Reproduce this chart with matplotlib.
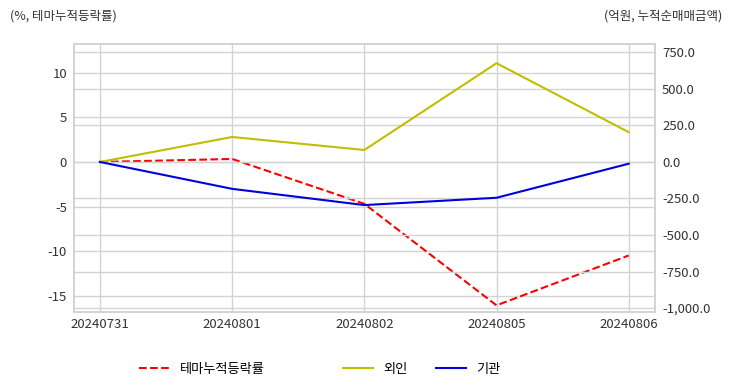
import matplotlib
matplotlib.use("Agg")
import matplotlib.pyplot as plt
from matplotlib.ticker import FuncFormatter

plt.rcParams['font.family'] = ['Noto Sans CJK KR', 'DejaVu Sans']
plt.rcParams['axes.unicode_minus'] = False

dates = ['20240731', '20240801', '20240802', '20240805', '20240806']
theme_rate = [0.0, 0.34, -4.7, -16.1, -10.5]      # %
foreign = [0.0, 171.0, 82.0, 676.0, 204.0]        # 억원
institution = [0.0, -184.0, -295.0, -245.0, -12.0]  # 억원

grid_c = '#d3d3d3'

fig = plt.figure(figsize=(7.32, 3.92), dpi=100)
ax = fig.add_axes([0.101, 0.204, 0.794, 0.684])
ax2 = ax.twinx()

x = list(range(len(dates)))
l1, = ax.plot(x, theme_rate, color='red', ls='--', lw=1.5, label='테마누적등락률')
l2, = ax2.plot(x, foreign, color='#bfbf00', lw=1.5, label='외인')
l3, = ax2.plot(x, institution, color='#0000dd', lw=1.5, label='기관')

ax.set_xlim(-0.197, 4.2)
ax.set_ylim(-16.85, 13.26)
ax2.set_ylim(-1027, 808)
ax.set_yticks([-15, -10, -5, 0, 5, 10])
ax2.set_yticks([-1000, -750, -500, -250, 0, 250, 500, 750])
ax2.yaxis.set_major_formatter(FuncFormatter(lambda v, p: f'{v:,.1f}'))
ax.set_xticks(x)
ax.set_xticklabels(dates)

for a in (ax, ax2):
    a.grid(True, color=grid_c, lw=1)
    a.set_axisbelow(True)
    a.tick_params(length=0, labelsize=9.5, colors='#333333', pad=5)
    for s in a.spines.values():
        s.set_color(grid_c)
        s.set_linewidth(1.2)
ax2.grid(axis='x', visible=False)
ax.tick_params(axis='x', pad=4)

fig.text(0.013, 0.96, '(%, 테마누적등락률)', fontsize=9, color='#333333', va='center')
fig.text(0.986, 0.96, '(억원, 누적순매매금액)', fontsize=9, color='#333333', va='center', ha='right')

leg1 = fig.legend(handles=[l1], loc='center', bbox_to_anchor=(0.276, 0.058), frameon=False,
                  fontsize=9.5, handlelength=2.3, handletextpad=0.75)
leg2 = fig.legend(handles=[l2, l3], loc='center', bbox_to_anchor=(0.576, 0.058), frameon=False,
                  ncol=2, fontsize=9.5, handlelength=2.3, handletextpad=0.75, columnspacing=2.2)

fig.savefig('out.png', dpi=100)
